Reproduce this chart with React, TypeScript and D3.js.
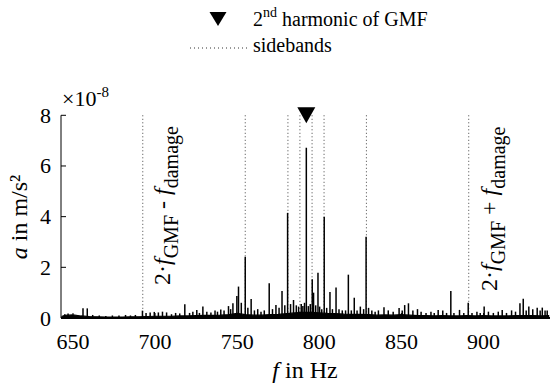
import React from "react";
import * as d3 from "d3";

// ---------- data (amplitudes in units of 1e-8 m/s²) ----------
const floorFreq = [643, 645, 650, 655, 660, 665, 670, 675, 680, 685, 690, 695, 700, 705, 710, 715, 720, 725, 730, 735, 740, 745, 750, 755, 760, 765, 770, 775, 780, 785, 790, 795, 800, 805, 810, 815, 820, 825, 830, 835, 840, 845, 850, 855, 860, 865, 870, 875, 880, 885, 890, 895, 900, 905, 910, 915, 920, 925, 930, 935, 940];
const floorAmp = [0.06, 0.1, 0.12, 0.08, 0.06, 0.05, 0.04, 0.04, 0.04, 0.05, 0.05, 0.06, 0.07, 0.07, 0.07, 0.08, 0.08, 0.09, 0.1, 0.1, 0.11, 0.13, 0.18, 0.13, 0.11, 0.11, 0.13, 0.14, 0.17, 0.2, 0.22, 0.22, 0.2, 0.18, 0.17, 0.15, 0.14, 0.14, 0.13, 0.11, 0.12, 0.11, 0.13, 0.11, 0.09, 0.09, 0.08, 0.09, 0.08, 0.08, 0.09, 0.08, 0.09, 0.08, 0.08, 0.08, 0.09, 0.09, 0.09, 0.08, 0.09];

const peakFreq = [645, 647, 649, 656.1, 658.7, 662, 666, 670, 674, 678, 682, 685, 688, 692.3, 694.5, 697, 699.5, 702, 704.5, 707, 710, 712.5, 715, 718.1, 721, 723, 725.4, 727, 729.1, 731.5, 734, 736.5, 738, 740, 742, 744.7, 746, 747.4, 749.8, 750.8, 752.5, 754.9, 756.5, 758.5, 760.5, 762.5, 764.5, 766.5, 769.5, 771.5, 773.6, 775.5, 777.3, 779, 780.7, 782.5, 784.3, 786, 787.4, 789, 790, 791, 792.1, 793.3, 794.5, 795.7, 796.5, 797.8, 799.2, 800.2, 801.5, 803, 804.5, 806.5, 808, 810.2, 812, 814, 816, 817.7, 819.5, 821.3, 823, 825, 827, 828.5, 830, 832, 834, 836, 839.4, 842, 845, 848.6, 850.5, 852, 854.3, 857, 859.8, 862, 865, 868, 870, 872.4, 875.2, 877.5, 880.1, 882, 885.4, 888, 890.7, 893, 896, 898, 900.4, 903, 906, 909, 911.4, 914, 917.1, 919.5, 922.2, 924.2, 926, 927.6, 930, 932.7, 934.5, 935.8, 937.5, 938.8];
const peakAmp = [0.15, 0.18, 0.12, 0.38, 0.38, 0.12, 0.1, 0.08, 0.1, 0.1, 0.12, 0.1, 0.12, 0.29, 0.2, 0.22, 0.24, 0.22, 0.25, 0.22, 0.15, 0.2, 0.18, 0.54, 0.2, 0.25, 0.32, 0.2, 0.45, 0.25, 0.22, 0.3, 0.25, 0.34, 0.3, 0.47, 0.35, 0.58, 0.87, 1.24, 0.6, 2.42, 0.4, 0.75, 0.3, 0.35, 0.25, 0.3, 1.37, 0.35, 0.51, 0.4, 1.07, 0.5, 4.15, 0.55, 0.71, 0.5, 0.45, 0.55, 0.47, 0.6, 6.72, 0.47, 0.55, 1.53, 1.0, 0.5, 1.79, 0.45, 0.35, 4.0, 0.4, 1.03, 0.35, 1.2, 0.35, 0.3, 0.3, 1.71, 0.3, 0.8, 0.3, 0.45, 0.35, 3.21, 0.4, 0.3, 0.25, 0.3, 0.42, 0.3, 0.25, 0.39, 0.3, 0.51, 0.58, 0.3, 0.35, 0.25, 0.2, 0.25, 0.2, 0.32, 0.3, 0.2, 1.07, 0.2, 0.32, 0.2, 0.6, 0.2, 0.25, 0.2, 0.45, 0.25, 0.2, 0.25, 0.32, 0.2, 0.3, 0.25, 0.58, 0.76, 0.3, 0.45, 0.35, 0.4, 0.3, 0.41, 0.3, 0.3];

const sidebandFreq = [692.5, 754.9, 780.9, 788.2, 795.6, 802.9, 828.7, 891.0];
const harmonicFreq = [792.1];
const harmonicMarkerLevel = 8;

const xTicks = [650, 700, 750, 800, 850, 900];
const yTicks = [0, 2, 4, 6, 8];
const xDomain = [642.7, 940.5];
const yDomain = [0, 8];

const FF = '"Liberation Serif"';
const st = (px: number, italic = false) => ({ fontFamily: FF, fontSize: `${px}px`, fontStyle: italic ? "italic" : "normal" });

export default function App() {
  const W = 551, H = 386;
  const left = 61, right = 550, top = 115.3, bottom = 318;
  const x = d3.scaleLinear().domain(xDomain).range([left, right]);
  const y = d3.scaleLinear().domain(yDomain).range([bottom, top]);

  const floorPts = floorFreq.map((f, i) => [f, floorAmp[i]] as [number, number]);
  const area = d3.area<[number, number]>()
    .x(d => x(d[0]))
    .y0(y(0))
    .y1(d => y(d[1]));
  const floorLine = d3.line<[number, number]>().x(d => x(d[0])).y(d => y(d[1]));

  const tri = (cx: number, cy: number, w: number, h: number) =>
    `M${cx - w / 2},${cy - h / 2}L${cx + w / 2},${cy - h / 2}L${cx},${cy + h / 2}Z`;

  const subDy = 8;

  const annotation = (tx: number, ty: number, op: string) => (
    <text transform={`translate(${tx},${ty}) rotate(-90)`} style={st(24)}>
      <tspan style={st(24)}>2·</tspan>
      <tspan style={st(24, true)}>f</tspan>
      <tspan style={st(20)} dy={subDy}>GMF</tspan>
      <tspan style={st(24)} dy={-subDy}>{` ${op} `}</tspan>
      <tspan style={st(24, true)}>f</tspan>
      <tspan style={st(20)} dy={subDy}>damage</tspan>
    </text>
  );

  return (
    <svg width={W} height={H} style={{ position: "absolute", left: 0, top: 0, background: "#fff" }}>
      {/* legend */}
      <path d={tri(218, 19, 17, 14)} fill="#000" />
      <text x={253} y={26} style={st(20)}>
        <tspan style={st(20)}>2</tspan>
        <tspan style={st(14)} dy={-9}>nd</tspan>
        <tspan style={st(20)} dy={9}> harmonic of GMF</tspan>
      </text>
      <line x1={190} x2={247} y1={48} y2={48} stroke="#333" strokeWidth={1} strokeDasharray="1,3" />
      <text x={253} y={52} style={st(20)}>sidebands</text>

      {/* sidebands */}
      {sidebandFreq.map((f, i) => (
        <line key={"sb" + i} x1={x(f)} x2={x(f)} y1={y(8)} y2={y(0)} stroke="#444" strokeWidth={1} strokeDasharray="1,2.5" />
      ))}

      {/* spectrum floor */}
      <path d={area(floorPts) || ""} fill="#000" />
      <path d={floorLine(floorPts) || ""} fill="none" stroke="#000" strokeWidth={1.2} />
      {/* spectral lines */}
      {peakFreq.map((f, i) => (
        <line key={"p" + i} x1={x(f)} x2={x(f)} y1={y(0)} y2={y(peakAmp[i])} stroke="#000" strokeWidth={1.5} />
      ))}
      <line x1={left} x2={right} y1={y(0)} y2={y(0)} stroke="#000" strokeWidth={2} />

      {/* harmonic marker */}
      {harmonicFreq.map((f, i) => (
        <path key={"h" + i} d={tri(x(f), y(harmonicMarkerLevel), 18, 16)} fill="#000" />
      ))}

      {/* y axis */}
      <line x1={left} x2={left} y1={y(8)} y2={y(0)} stroke="#000" strokeWidth={1} />
      {yTicks.map(t => (
        <line key={"ytl" + t} x1={left} x2={left + 5} y1={y(t)} y2={y(t)} stroke="#000" strokeWidth={1} />
      ))}
      {yTicks.map(t => (
        <text key={"yt" + t} x={51} y={y(t) + 7.5} textAnchor="end" style={st(22)}>{String(t)}</text>
      ))}
      <text x={62} y={106} style={st(22)}>
        <tspan style={st(22)}>×10</tspan>
        <tspan style={st(15)} dy={-9}>-8</tspan>
      </text>

      {/* x axis */}
      {xTicks.map(t => (
        <line key={"xtl" + t} x1={x(t)} x2={x(t)} y1={y(0)} y2={y(0) - 5} stroke="#000" strokeWidth={1} />
      ))}
      {xTicks.map(t => (
        <text key={"xt" + t} x={x(t)} y={349} textAnchor="middle" style={st(22)}>{String(t)}</text>
      ))}
      <text x={305} y={378} textAnchor="middle" style={st(24)}>
        <tspan style={st(24, true)}>f</tspan>
        <tspan style={st(24)}> in Hz</tspan>
      </text>
      <text transform={`translate(27,217) rotate(-90)`} textAnchor="middle" style={st(24)}>
        <tspan style={st(24, true)}>a</tspan>
        <tspan style={st(24)}> in m/s²</tspan>
      </text>

      {/* annotations */}
      {annotation(170, 285, "-")}
      {annotation(497, 291, "+")}
    </svg>
  );
}
